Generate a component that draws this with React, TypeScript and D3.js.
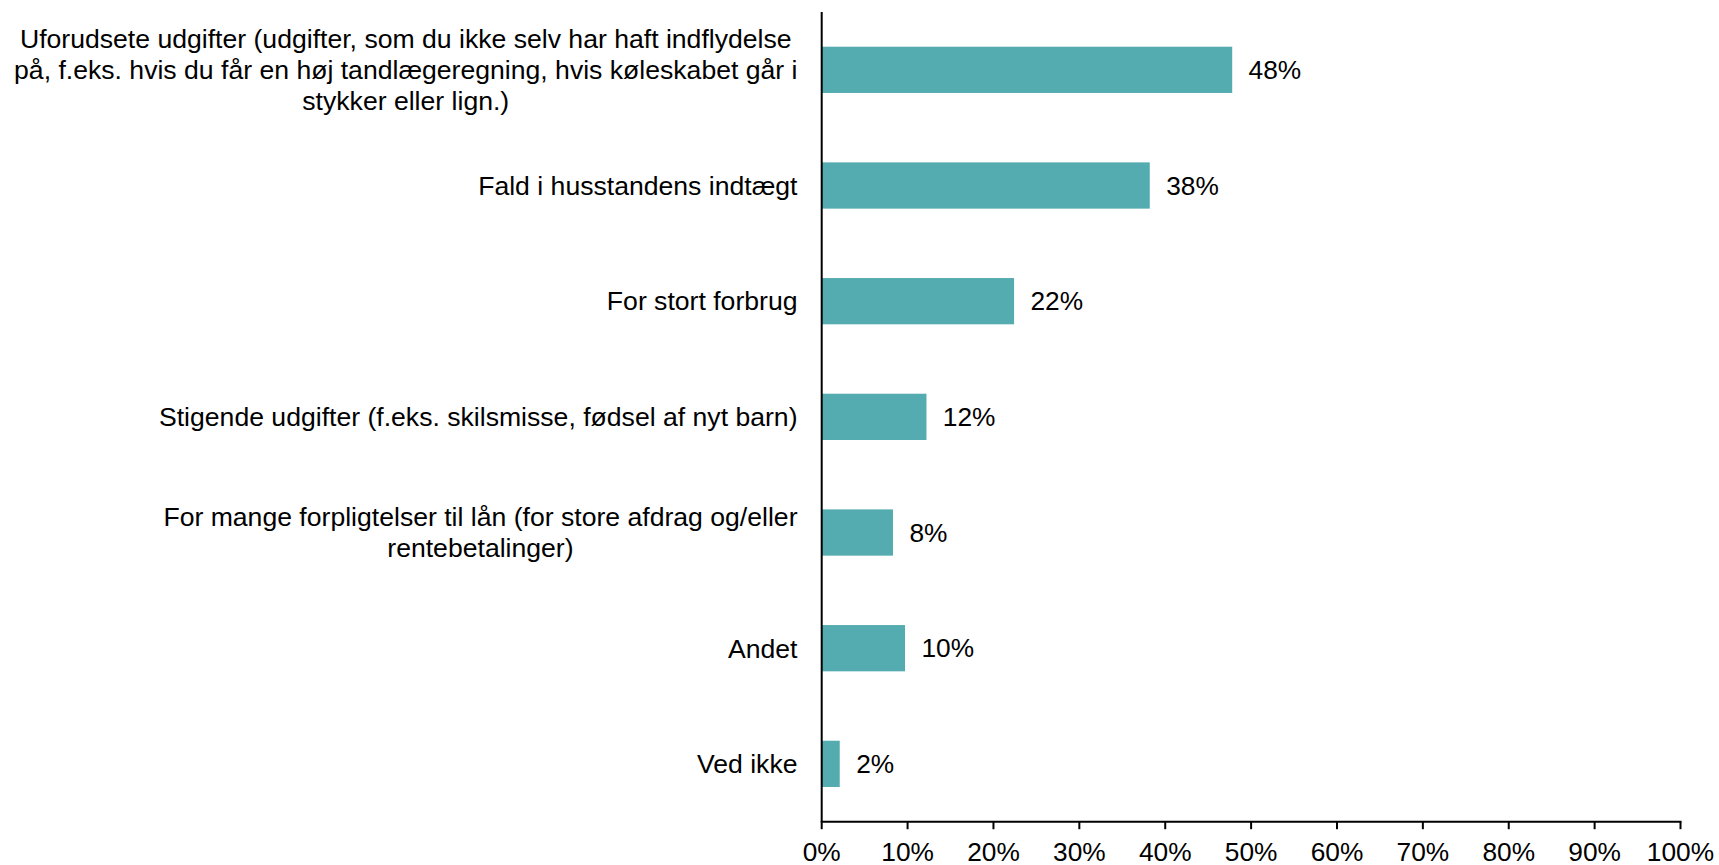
import React from "react";
import * as d3 from "d3";

const categories: string[] = [
  "Uforudsete udgifter (udgifter, som du ikke selv har haft indflydelse\npå, f.eks. hvis du får en høj tandlægeregning, hvis køleskabet går i\nstykker eller lign.)",
  "Fald i husstandens indtægt",
  "For stort forbrug",
  "Stigende udgifter (f.eks. skilsmisse, fødsel af nyt barn)",
  "For mange forpligtelser til lån (for store afdrag og/eller\nrentebetalinger)",
  "Andet",
  "Ved ikke",
];
const values: number[] = [47.8, 38.2, 22.4, 12.2, 8.3, 9.7, 2.1];
const tickValues: number[] = [0, 10, 20, 30, 40, 50, 60, 70, 80, 90, 100];

const W = 1719;
const H = 865;
const FONT = "'Liberation Sans', Arial, sans-serif";
const FS = 26.3;
const FS_CAT = 26.6;
const BAR = "#54ACB0";

let ctx: CanvasRenderingContext2D | null = null;
function measure(t: string): number {
  if (!ctx) {
    const c = document.createElement("canvas");
    ctx = c.getContext("2d");
  }
  if (!ctx) return t.length * FS_CAT * 0.5;
  ctx.font = `${FS_CAT}px 'Liberation Sans'`;
  return ctx.measureText(t).width;
}

export default function App() {
  const x = d3.scaleLinear().domain([0, 100]).range([821.7, 1680.5]);
  const y = d3
    .scaleBand<string>()
    .domain(categories)
    .range([12, 821.7])
    .paddingInner(0.6)
    .paddingOuter(0.3);
  const axisY = 821.7;
  const labelRight = 797.5;
  const lineH = 31;

  return (
    <svg
      width={W}
      height={H}
      style={{ position: "absolute", left: 0, top: 0, background: "#fff" }}
      fontFamily={FONT}
    >
      {categories.map((c, i) => {
        const y0 = y(c) as number;
        const bw = y.bandwidth();
        const cy = y0 + bw / 2;
        const lines = c.split("\n");
        const maxW = Math.max(...lines.map(measure));
        const cx = labelRight - maxW / 2;
        const v = values[i];
        return (
          <g key={c}>
            <rect x={x(0)} y={y0} width={x(v) - x(0)} height={bw} fill={BAR} />
            <text
              x={x(v) + 16.4}
              y={cy}
              dy="0.35em"
              fontSize={FS}
              fill="#000"
            >
              {`${Math.round(v)}%`}
            </text>
            {lines.map((ln, k) => (
              <text
                key={k}
                x={lines.length > 1 ? cx : labelRight}
                y={cy + (k - (lines.length - 1) / 2) * lineH}
                dy="0.35em"
                fontSize={FS_CAT}
                textAnchor={lines.length > 1 ? "middle" : "end"}
                fill="#000"
              >
                {ln}
              </text>
            ))}
          </g>
        );
      })}
      <line x1={x(0)} x2={x(0)} y1={12} y2={axisY} stroke="#000" strokeWidth={2} />
      <line x1={x(0) - 1} x2={x(100) + 1} y1={axisY} y2={axisY} stroke="#000" strokeWidth={2} />
      {tickValues.map((t) => (
        <g key={t}>
          <line x1={x(t)} x2={x(t)} y1={axisY} y2={axisY + 7.5} stroke="#000" strokeWidth={2} />
          <text x={x(t)} y={axisY + 39} fontSize={FS} textAnchor="middle" fill="#000">
            {`${t}%`}
          </text>
        </g>
      ))}
    </svg>
  );
}
